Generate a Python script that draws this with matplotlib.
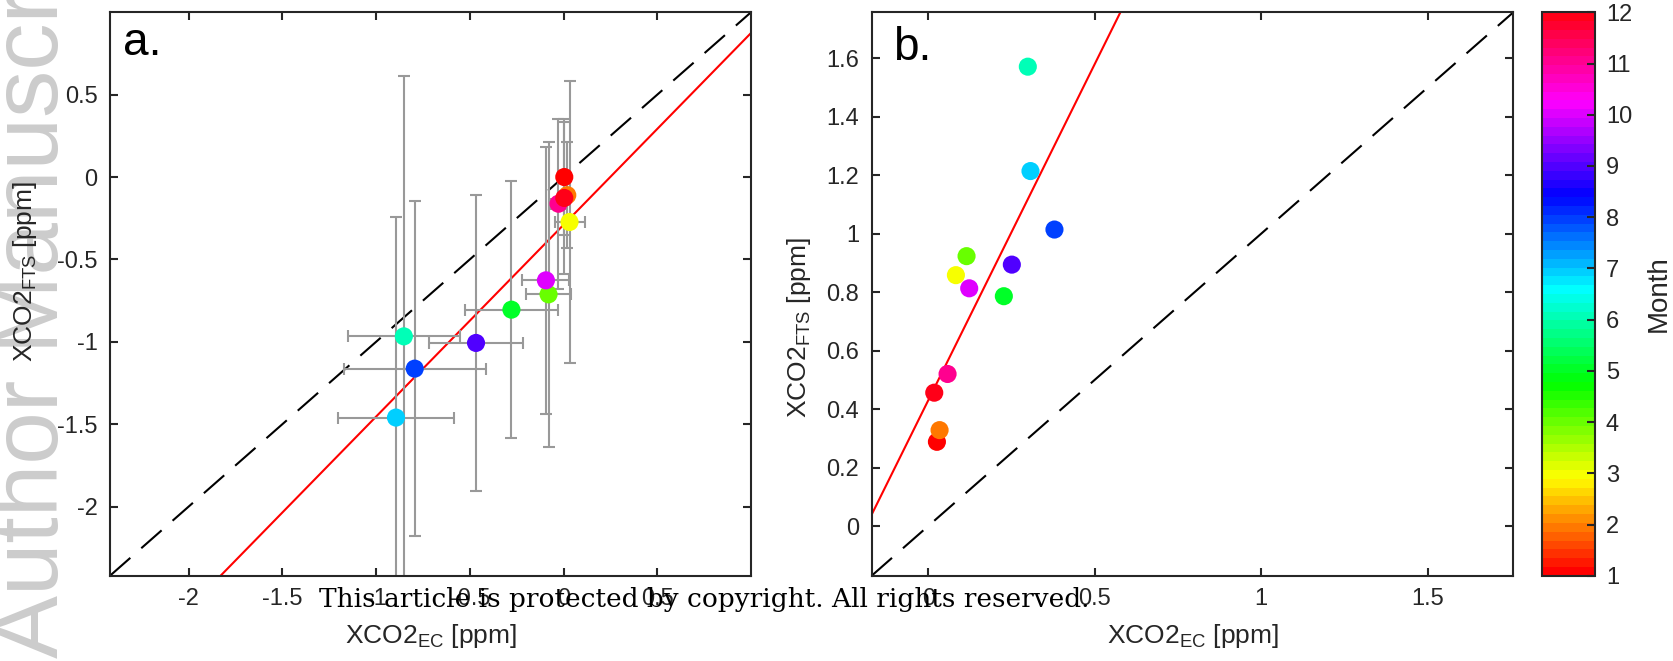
import numpy as np
import matplotlib
matplotlib.use('Agg')
import matplotlib.pyplot as plt
from matplotlib.colors import ListedColormap, Normalize, hsv_to_rgb

# monthly mean differences, months 1..12
months = np.arange(1, 13)

# panel a: mean anomalies with their spread
xa = [0.004, 0.02, 0.032, -0.08, -0.278, -0.852, -0.894, -0.794, -0.467, -0.094, -0.027, 0.004]
ya = [0.0, -0.11, -0.273, -0.712, -0.805, -0.967, -1.46, -1.163, -1.007, -0.627, -0.162, -0.127]
xa_err = [0.03, 0.03, 0.08, 0.12, 0.25, 0.30, 0.31, 0.38, 0.253, 0.125, 0.04, 0.03]
ya_err = [0.35, 0.32, 0.855, 0.925, 0.78, 1.58, 1.22, 1.015, 0.90, 0.81, 0.516, 0.46]
fit_a = (1.164, -0.29)   # slope, intercept

# panel b
xb = [0.026, 0.034, 0.083, 0.115, 0.227, 0.299, 0.307, 0.379, 0.251, 0.123, 0.058, 0.018]
yb = [0.288, 0.328, 0.858, 0.923, 0.786, 1.571, 1.214, 1.014, 0.894, 0.813, 0.52, 0.456]
fit_b = (2.3, 0.43)

lim_a = (-2.42, 1.0)
lim_b = (-0.17, 1.757)
ticks_a = [-2, -1.5, -1, -0.5, 0, 0.5]
xticks_b = [0, 0.5, 1, 1.5]
yticks_b = [0, 0.2, 0.4, 0.6, 0.8, 1.0, 1.2, 1.4, 1.6]

plt.rcParams['font.family'] = ['Liberation Sans', 'DejaVu Sans']
plt.rcParams['mathtext.fontset'] = 'custom'
plt.rcParams['mathtext.rm'] = 'Liberation Sans'
plt.rcParams['mathtext.it'] = 'Liberation Sans'
plt.rcParams['axes.unicode_minus'] = False

# matlab style hsv(64)
h = np.arange(64) / 64.0
cmap = ListedColormap(hsv_to_rgb(np.column_stack([h, np.ones(64), np.ones(64)])))
norm = Normalize(vmin=1, vmax=12)

axcol = '#262626'
fig = plt.figure(figsize=(16.74, 6.61), dpi=100)
ax1 = fig.add_axes([0.0657, 0.129, 0.3829, 0.8524])
ax2 = fig.add_axes([0.5207, 0.129, 0.3833, 0.8524])
cax = fig.add_axes([0.9211, 0.129, 0.0315, 0.8524])

def style(ax):
    for s in ax.spines.values():
        s.set_color(axcol)
        s.set_linewidth(1.5)
    ax.tick_params(direction='in', length=6, width=1.5, top=True, right=True,
                   labelsize=17, colors=axcol, pad=9)

# a.
ax1.errorbar(xa, ya, xerr=xa_err, yerr=ya_err, fmt='none', ecolor='#999999',
             elinewidth=1.5, capsize=4.5, capthick=1.5, zorder=2)
xx = np.array(lim_a)
ax1.plot(xx, xx, 'k', lw=1.5, dashes=(13, 7), zorder=1)
ax1.plot(xx, fit_a[0] * xx + fit_a[1], 'r', lw=1.5, zorder=1)
ax1.scatter(xa, ya, c=months, cmap=cmap, norm=norm, s=170, edgecolors='none', zorder=3)
ax1.set_xlim(lim_a)
ax1.set_ylim(lim_a)
ax1.set_xticks(ticks_a)
ax1.set_yticks(ticks_a)
ax1.set_xticklabels(['%g' % t for t in ticks_a])
ax1.set_yticklabels(['%g' % t for t in ticks_a])
style(ax1)
ax1.text(0.02, 0.925, 'a.', transform=ax1.transAxes, fontsize=33)
ax1.set_xlabel('XCO2$_{\\mathrm{EC}}$ [ppm]', fontsize=19, color=axcol)
ax1.set_ylabel('XCO2$_{\\mathrm{FTS}}$ [ppm]', fontsize=19, color=axcol)
ax1.xaxis.set_label_coords(0.5, -0.082)
ax1.yaxis.set_label_coords(-0.11, 0.54)

# b.
xx = np.array(lim_b)
ax2.plot(xx, xx, 'k', lw=1.5, dashes=(13, 7), zorder=1)
ax2.plot(xx, fit_b[0] * xx + fit_b[1], 'r', lw=1.5, zorder=1)
sc = ax2.scatter(xb, yb, c=months, cmap=cmap, norm=norm, s=170, edgecolors='none', zorder=3)
ax2.set_xlim(lim_b)
ax2.set_ylim(lim_b)
ax2.set_xticks(xticks_b)
ax2.set_yticks(yticks_b)
ax2.set_xticklabels(['%g' % t for t in xticks_b])
ax2.set_yticklabels(['%g' % t for t in yticks_b])
style(ax2)
ax2.text(0.033, 0.915, 'b.', transform=ax2.transAxes, fontsize=33)
ax2.set_xlabel('XCO2$_{\\mathrm{EC}}$ [ppm]', fontsize=19, color=axcol)
ax2.set_ylabel('XCO2$_{\\mathrm{FTS}}$ [ppm]', fontsize=19, color=axcol)
ax2.xaxis.set_label_coords(0.5, -0.082)
ax2.yaxis.set_label_coords(-0.092, 0.44)

# colorbar
cb = fig.colorbar(sc, cax=cax, ticks=months)
cb.outline.set_edgecolor(axcol)
cb.outline.set_linewidth(1.5)
cax.tick_params(direction='in', length=6, width=1.5, labelsize=17, colors=axcol, pad=8)
cb.set_label('Month', fontsize=20, color=axcol, labelpad=10)

# side and bottom notices
fig.text(58 / 1674, 3 / 661, 'Author Manuscript', rotation=90, rotation_mode='anchor',
         ha='left', va='baseline', fontsize=68, color='#cccccc', zorder=-1)
fig.text(704 / 1674, (661 - 606.7) / 661, 'This article is protected by copyright. All rights reserved.',
         ha='center', va='baseline', fontsize=19, family='DejaVu Serif', color='black')

fig.savefig('out.png', dpi=100)
